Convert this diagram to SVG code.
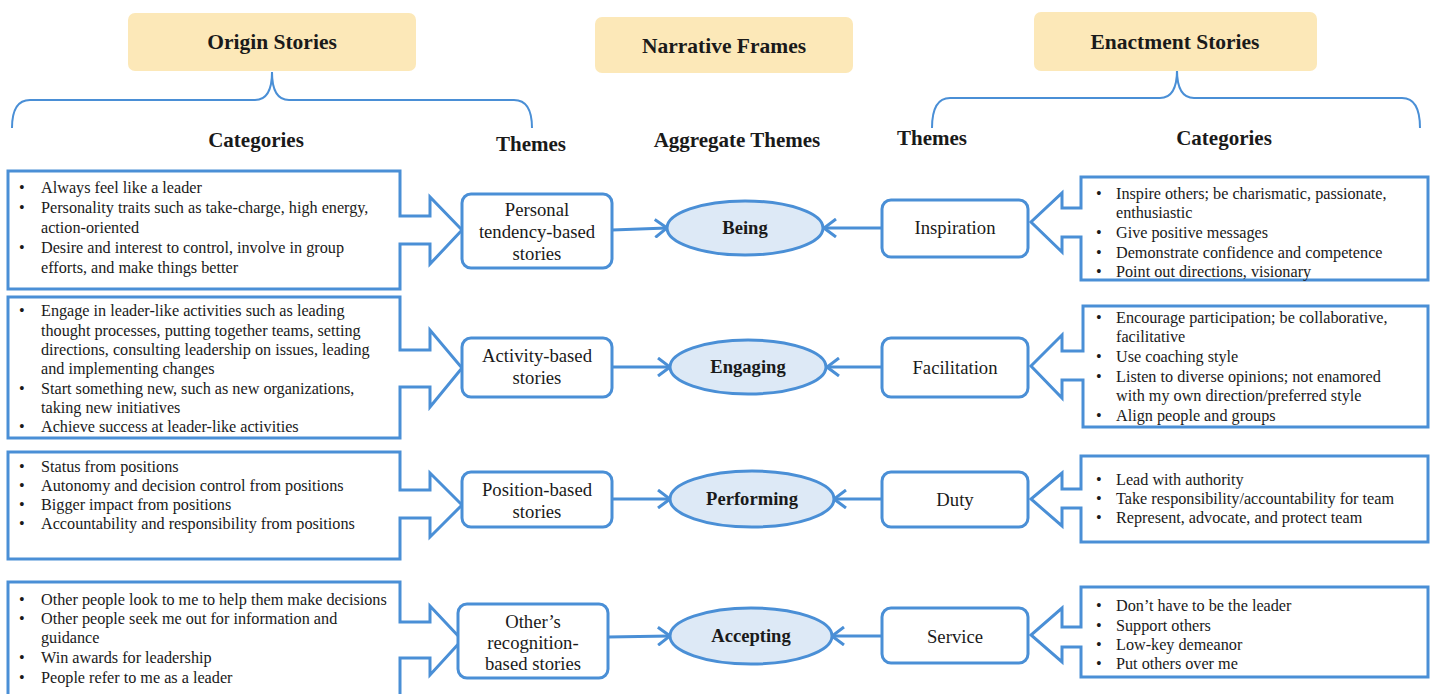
<svg xmlns="http://www.w3.org/2000/svg" width="1430" height="694" viewBox="0 0 1430 694">
<defs>
<marker id="chev" viewBox="0 0 14 20" refX="13" refY="10" markerWidth="14" markerHeight="20" markerUnits="userSpaceOnUse" orient="auto">
<path d="M1,1 L13,10 L1,19" fill="none" stroke="#4a8fd6" stroke-width="3"/>
</marker>
<style>
.hdr{fill:#fce8b8;stroke:none}
.brace{fill:none;stroke:#4a8fd6;stroke-width:2}
.blk{fill:#ffffff;stroke:#4a8fd6;stroke-width:3;stroke-linejoin:miter}
.th{fill:#ffffff;stroke:#4a8fd6;stroke-width:3}
.ell{fill:#dde9f6;stroke:#4a8fd6;stroke-width:3}
.con{fill:none;stroke:#4a8fd6;stroke-width:3;marker-end:url(#chev)}
text{font-family:"Liberation Serif","Times New Roman",serif;fill:#1a1a1a}
.h1{font-size:21.5px;font-weight:bold;text-anchor:middle}
.h2{font-size:21px;font-weight:bold;text-anchor:middle}
.lt{font-size:16.2px}
.rt{font-size:16.2px}
.tt{font-size:18.7px;text-anchor:middle}
.et{font-size:18.6px;font-weight:bold;text-anchor:middle}
</style>
</defs>

<g id="braces">
<path class="brace" d="M12,128 Q12,100 30,100 L255,100 Q272,100 272,72 Q272,100 289,100 L514,100 Q532,100 532,128"/>
<path class="brace" d="M932,128 Q932,98 950,98 L1160,98 Q1177,98 1177,70 Q1177,98 1194,98 L1402,98 Q1420,98 1420,128"/>
</g>

<g id="header-origin">
<rect class="hdr" x="128" y="13" width="288" height="58" rx="7"/>
<text class="h1" x="272" y="49">Origin Stories</text>
</g>
<g id="header-narrative">
<rect class="hdr" x="595" y="17" width="258" height="56" rx="7"/>
<text class="h1" x="724" y="53">Narrative Frames</text>
</g>
<g id="header-enactment">
<rect class="hdr" x="1034" y="12" width="283" height="59" rx="7"/>
<text class="h1" x="1175" y="49">Enactment Stories</text>
</g>

<g id="column-headers">
<text class="h2" x="256" y="147">Categories</text>
<text class="h2" x="531" y="151">Themes</text>
<text class="h2" x="737" y="147">Aggregate Themes</text>
<text class="h2" x="932" y="145">Themes</text>
<text class="h2" x="1224" y="145">Categories</text>
</g>

<g id="left-cat-1">
<path class="blk" d="M8,171 H400 V216 H430 V197 L462,230 L430,264 V244 H400 V289 H8 Z"/>
<text class="lt" x="19" y="193">•</text><text class="lt" x="41" y="193">Always feel like a leader</text>
<text class="lt" x="19" y="213">•</text><text class="lt" x="41" y="213">Personality traits such as take-charge, high energy,</text>
<text class="lt" x="41" y="233">action-oriented</text>
<text class="lt" x="19" y="253">•</text><text class="lt" x="41" y="253">Desire and interest to control, involve in group</text>
<text class="lt" x="41" y="273">efforts, and make things better</text>
</g>

<g id="left-cat-2">
<path class="blk" d="M8,297 H400 V350 H430 V330 L462,368 L430,407 V387 H400 V438 H8 Z"/>
<text class="lt" x="19" y="316">•</text><text class="lt" x="41" y="316">Engage in leader-like activities such as leading</text>
<text class="lt" x="41" y="336">thought processes, putting together teams, setting</text>
<text class="lt" x="41" y="355">directions, consulting leadership on issues, leading</text>
<text class="lt" x="41" y="374">and implementing changes</text>
<text class="lt" x="19" y="394">•</text><text class="lt" x="41" y="394">Start something new, such as new organizations,</text>
<text class="lt" x="41" y="413">taking new initiatives</text>
<text class="lt" x="19" y="432">•</text><text class="lt" x="41" y="432">Achieve success at leader-like activities</text>
</g>

<g id="left-cat-3">
<path class="blk" d="M8,452 H400 V490 H430 V473 L462,505 L430,537 V518 H400 V559 H8 Z"/>
<text class="lt" x="19" y="472">•</text><text class="lt" x="41" y="472">Status from positions</text>
<text class="lt" x="19" y="491">•</text><text class="lt" x="41" y="491">Autonomy and decision control from positions</text>
<text class="lt" x="19" y="510">•</text><text class="lt" x="41" y="510">Bigger impact from positions</text>
<text class="lt" x="19" y="529">•</text><text class="lt" x="41" y="529">Accountability and responsibility from positions</text>
</g>

<g id="left-cat-4">
<path class="blk" d="M8,582 H400 V622 H430 V606 L462,640 L430,675 V658 H400 V702 H8 Z"/>
<text class="lt" x="19" y="605">•</text><text class="lt" x="41" y="605">Other people look to me to help them make decisions</text>
<text class="lt" x="19" y="624">•</text><text class="lt" x="41" y="624">Other people seek me out for information and</text>
<text class="lt" x="41" y="643">guidance</text>
<text class="lt" x="19" y="663">•</text><text class="lt" x="41" y="663">Win awards for leadership</text>
<text class="lt" x="19" y="683">•</text><text class="lt" x="41" y="683">People refer to me as a leader</text>
</g>

<g id="theme-personal">
<rect class="th" x="462" y="194" width="150" height="74" rx="9"/>
<text class="tt" x="537" y="216">Personal</text>
<text class="tt" x="537" y="238">tendency-based</text>
<text class="tt" x="537" y="260">stories</text>
</g>
<g id="theme-activity">
<rect class="th" x="462" y="338" width="150" height="59" rx="9"/>
<text class="tt" x="537" y="362">Activity-based</text>
<text class="tt" x="537" y="384">stories</text>
</g>
<g id="theme-position">
<rect class="th" x="462" y="472" width="150" height="55" rx="9"/>
<text class="tt" x="537" y="496">Position-based</text>
<text class="tt" x="537" y="518">stories</text>
</g>
<g id="theme-recognition">
<rect class="th" x="458" y="604" width="150" height="74" rx="9"/>
<text class="tt" x="533" y="628">Other’s</text>
<text class="tt" x="533" y="649">recognition-</text>
<text class="tt" x="533" y="670">based stories</text>
</g>

<g id="agg-being">
<ellipse class="ell" cx="745" cy="228" rx="78" ry="27"/>
<text class="et" x="745" y="234">Being</text>
</g>
<g id="agg-engaging">
<ellipse class="ell" cx="748" cy="367" rx="78" ry="27"/>
<text class="et" x="748" y="373">Engaging</text>
</g>
<g id="agg-performing">
<ellipse class="ell" cx="752" cy="499" rx="82" ry="28"/>
<text class="et" x="752" y="505">Performing</text>
</g>
<g id="agg-accepting">
<ellipse class="ell" cx="751" cy="636" rx="81" ry="28"/>
<text class="et" x="751" y="642">Accepting</text>
</g>

<g id="theme-inspiration">
<rect class="th" x="882" y="200" width="146" height="57" rx="9"/>
<text class="tt" x="955" y="234">Inspiration</text>
</g>
<g id="theme-facilitation">
<rect class="th" x="882" y="338" width="146" height="59" rx="9"/>
<text class="tt" x="955" y="374">Facilitation</text>
</g>
<g id="theme-duty">
<rect class="th" x="882" y="472" width="146" height="55" rx="9"/>
<text class="tt" x="955" y="506">Duty</text>
</g>
<g id="theme-service">
<rect class="th" x="882" y="608" width="146" height="55" rx="9"/>
<text class="tt" x="955" y="643">Service</text>
</g>

<g id="right-cat-1">
<path class="blk" d="M1428,177 H1081 V208 H1062 V193 L1031,222 L1062,252 V237 H1081 V280 H1428 Z"/>
<text class="rt" x="1096" y="199">•</text><text class="rt" x="1116" y="199">Inspire others; be charismatic, passionate,</text>
<text class="rt" x="1116" y="218">enthusiastic</text>
<text class="rt" x="1096" y="238">•</text><text class="rt" x="1116" y="238">Give positive messages</text>
<text class="rt" x="1096" y="258">•</text><text class="rt" x="1116" y="258">Demonstrate confidence and competence</text>
<text class="rt" x="1096" y="277">•</text><text class="rt" x="1116" y="277">Point out directions, visionary</text>
</g>

<g id="right-cat-2">
<path class="blk" d="M1428,306 H1083 V351 H1062 V335 L1031,366 L1062,398 V380 H1083 V427 H1428 Z"/>
<text class="rt" x="1096" y="323">•</text><text class="rt" x="1116" y="323">Encourage participation; be collaborative,</text>
<text class="rt" x="1116" y="342">facilitative</text>
<text class="rt" x="1096" y="362">•</text><text class="rt" x="1116" y="362">Use coaching style</text>
<text class="rt" x="1096" y="382">•</text><text class="rt" x="1116" y="382">Listen to diverse opinions; not enamored</text>
<text class="rt" x="1116" y="401">with my own direction/preferred style</text>
<text class="rt" x="1096" y="421">•</text><text class="rt" x="1116" y="421">Align people and groups</text>
</g>

<g id="right-cat-3">
<path class="blk" d="M1428,456 H1081 V489 H1062 V473 L1031,499 L1062,526 V508 H1081 V542 H1428 Z"/>
<text class="rt" x="1096" y="485">•</text><text class="rt" x="1116" y="485">Lead with authority</text>
<text class="rt" x="1096" y="504">•</text><text class="rt" x="1116" y="504">Take responsibility/accountability for team</text>
<text class="rt" x="1096" y="523">•</text><text class="rt" x="1116" y="523">Represent, advocate, and protect team</text>
</g>

<g id="right-cat-4">
<path class="blk" d="M1428,587 H1081 V627 H1062 V608 L1031,635 L1062,662 V647 H1081 V677 H1428 Z"/>
<text class="rt" x="1096" y="611">•</text><text class="rt" x="1116" y="611">Don’t have to be the leader</text>
<text class="rt" x="1096" y="631">•</text><text class="rt" x="1116" y="631">Support others</text>
<text class="rt" x="1096" y="650">•</text><text class="rt" x="1116" y="650">Low-key demeanor</text>
<text class="rt" x="1096" y="669">•</text><text class="rt" x="1116" y="669">Put others over me</text>
</g>

<g id="connectors">
<line class="con" x1="612" y1="230" x2="667" y2="228"/>
<line class="con" x1="882" y1="228" x2="824" y2="228"/>
<line class="con" x1="612" y1="367" x2="670" y2="367"/>
<line class="con" x1="882" y1="367" x2="827" y2="367"/>
<line class="con" x1="612" y1="499" x2="670" y2="499"/>
<line class="con" x1="882" y1="499" x2="834" y2="499"/>
<line class="con" x1="608" y1="637" x2="670" y2="636"/>
<line class="con" x1="882" y1="636" x2="832" y2="636"/>
</g>
</svg>
